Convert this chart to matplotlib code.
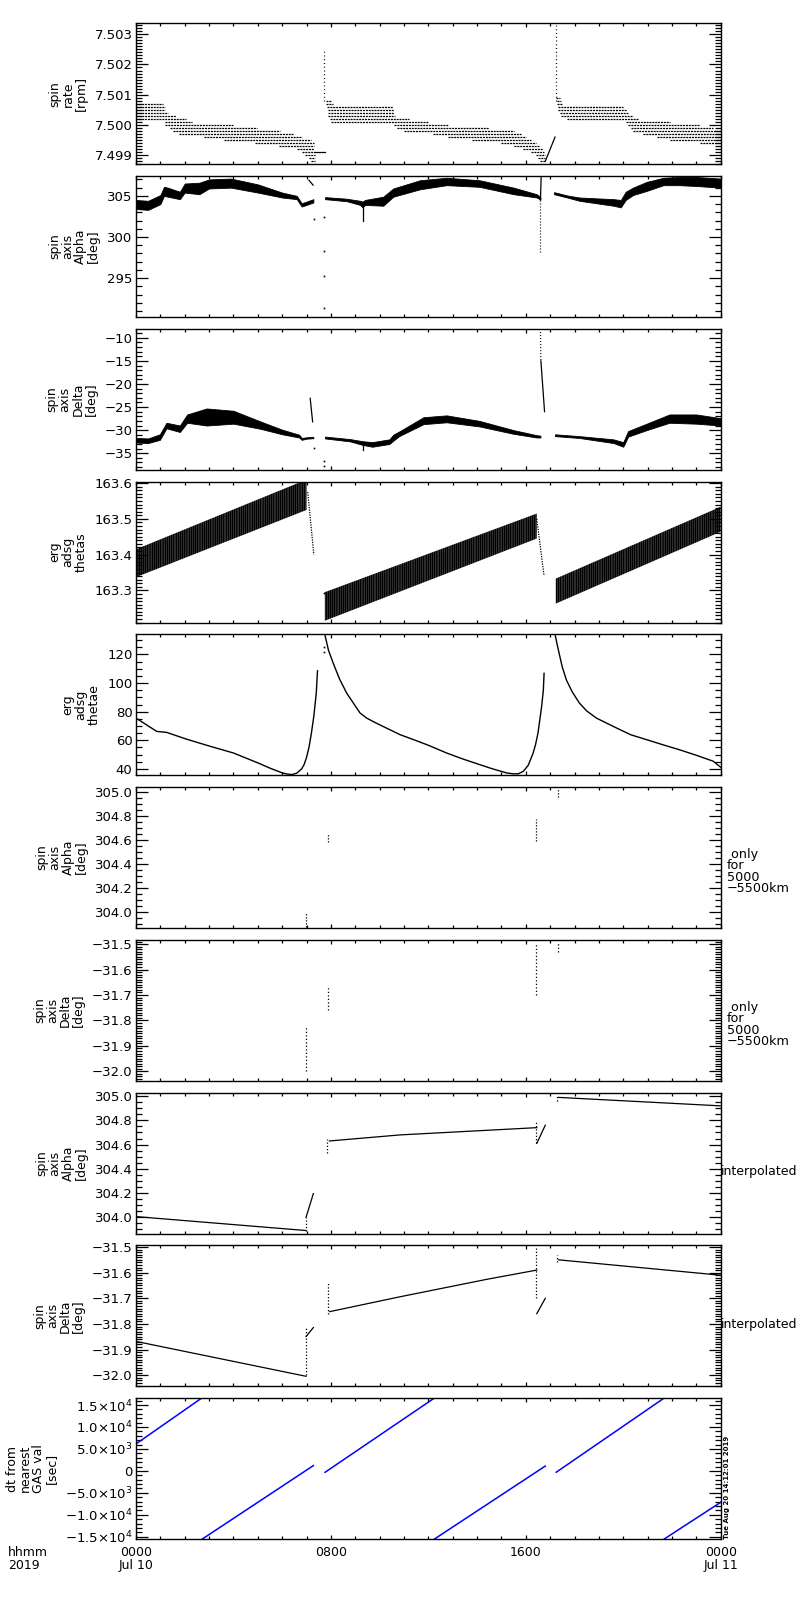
import numpy as np
import matplotlib
matplotlib.use("Agg")
import matplotlib.pyplot as plt
from matplotlib.ticker import MultipleLocator

plt.rcParams['font.family'] = ['DejaVu Sans']
plt.rcParams['hatch.linewidth'] = 1.2

# time axis: hours of 2019-07-10
xtick_hours = [0, 8, 16, 24]
xtick_labels = ['0000\nJul 10', '0800', '1600', '0000\nJul 11']

# ---- panel 1: spin rate, quantised rows (level, start hour, end hour)
rate_lv1 = [7.5007, 7.5006, 7.5005, 7.5004, 7.5003, 7.5002, 7.5001, 7.5000, 7.4999, 7.4998,
            7.4997, 7.4996, 7.4995, 7.4994, 7.4993, 7.4992, 7.4991, 7.4990, 7.4989, 7.4988]
rate_st1 = [0.0, 0.0, 0.0, 0.0, 0.0, 0.0, 1.2, 1.2, 1.4, 1.5, 1.75, 2.8, 3.6, 4.9, 5.85, 6.6, 6.8, 6.95, 7.1, 7.2]
rate_en1 = [1.1, 1.2, 1.2, 1.3, 1.65, 2.05, 2.3, 4.0, 4.95, 5.9, 6.45, 6.8, 7.2, 7.3, 7.3, 7.3, 7.3, 7.35, 7.35, 7.35]
rate_lv2 = [7.5008, 7.5007, 7.5006, 7.5005, 7.5004, 7.5003, 7.5002, 7.5001, 7.5000, 7.4999, 7.4998,
            7.4997, 7.4996, 7.4995, 7.4994, 7.4993, 7.4992, 7.4991, 7.4990, 7.4989, 7.4988]
rate_st2 = [7.78, 7.8, 7.85, 7.9, 7.9, 7.9, 7.95, 8.0, 10.6, 10.7, 11.0, 12.2, 12.8, 13.8, 15.0, 15.5, 15.9, 16.2, 16.4, 16.5, 16.6]
rate_en2 = [8.0, 8.1, 10.55, 10.6, 10.6, 10.65, 11.2, 12.0, 12.8, 14.5, 15.5, 15.8, 16.0, 16.2, 16.4, 16.6, 16.7, 16.75, 16.8, 16.8, 16.8]
rate_lv3 = [7.5009, 7.5008, 7.5007, 7.5006, 7.5005, 7.5004, 7.5003, 7.5002, 7.5001, 7.5000,
            7.4999, 7.4998, 7.4997, 7.4996, 7.4995, 7.4994]
rate_st3 = [17.25, 17.28, 17.3, 17.34, 17.34, 17.4, 17.45, 17.7, 20.1, 20.2, 20.3, 20.4, 20.83, 21.37, 21.9, 23.15]
rate_en3 = [17.4, 17.45, 17.5, 20.0, 20.14, 20.2, 20.4, 20.6, 21.9, 23.15, 23.7, 24.0, 24.0, 24.0, 24.0, 24.0]
rate_flat_t = [7.3, 7.75]
rate_flat_v = [7.4991, 7.4991]
rate_spk_t = [7.72, 17.23]
rate_spk_lo = [7.5008, 7.5008]
rate_spk_hi = [7.5025, 7.5040]
rate_diag_t = [16.8, 17.2]
rate_diag_v = [7.4988, 7.4996]

# ---- panel 2: spin axis alpha, band envelopes per segment
alp_t1 = [0.0, 0.5, 1.0, 1.15, 1.3, 1.8, 2.0, 2.6, 3.0, 3.9, 5.0, 6.0, 6.6, 6.8, 7.0, 7.28]
alp_hi1 = [304.5, 304.4, 305.1, 306.1, 306.0, 305.5, 306.5, 306.6, 307.0, 307.1, 306.4, 305.4, 305.0, 304.1, 304.3, 304.6]
alp_lo1 = [303.4, 303.3, 304.0, 305.0, 304.9, 304.6, 305.4, 305.2, 305.9, 306.0, 305.4, 304.8, 304.6, 303.7, 303.9, 304.2]
alp_t2 = [7.76, 8.65, 9.2, 9.3, 9.4, 10.15, 10.56, 11.66, 12.75, 14.1, 15.5, 16.45, 16.6]
alp_hi2 = [304.85, 304.65, 304.4, 304.3, 304.5, 304.9, 305.9, 306.9, 307.2, 306.9, 306.0, 305.2, 304.85]
alp_lo2 = [304.6, 304.35, 303.9, 303.6, 303.9, 303.8, 304.9, 305.8, 306.3, 306.1, 305.2, 304.8, 304.55]
alp_t3 = [17.16, 17.7, 18.2, 19.6, 19.9, 20.1, 20.4, 20.96, 21.65, 22.3, 23.0, 24.0]
alp_hi3 = [305.45, 305.05, 304.8, 304.6, 304.5, 305.5, 306.0, 306.7, 307.2, 307.3, 307.3, 307.1]
alp_lo3 = [305.2, 304.8, 304.4, 303.8, 303.6, 304.5, 305.1, 305.6, 306.3, 306.3, 306.2, 306.0]
alp_dots_t = [7.32, 7.72, 7.72, 7.72, 7.72]
alp_dots_v = [302.2, 302.4, 298.3, 295.3, 291.3]

# ---- panel 3: spin axis delta
dlt_t1 = [0.0, 0.5, 0.98, 1.25, 1.8, 2.1, 2.9, 4.0, 5.1, 6.0, 6.7, 6.8, 7.0, 7.28]
dlt_hi1 = [-31.7, -31.8, -30.9, -28.4, -29.0, -26.6, -25.3, -25.8, -28.1, -29.9, -31.0, -31.7, -31.55, -31.45]
dlt_lo1 = [-32.7, -32.8, -32.1, -29.6, -30.4, -28.4, -29.0, -28.6, -29.7, -30.9, -31.6, -32.1, -31.85, -31.75]
dlt_t2 = [7.76, 8.8, 9.3, 9.7, 10.4, 10.56, 10.8, 11.8, 12.75, 14.1, 15.5, 16.45, 16.6]
dlt_hi2 = [-31.4, -31.95, -32.4, -32.6, -32.0, -31.0, -30.3, -27.2, -26.8, -28.0, -30.0, -31.1, -31.2]
dlt_lo2 = [-31.8, -32.45, -33.2, -33.6, -33.0, -32.3, -31.3, -28.7, -28.3, -29.2, -30.8, -31.6, -31.6]
dlt_t3 = [17.2, 18.2, 19.6, 20.0, 20.2, 20.96, 21.9, 23.0, 24.0]
dlt_hi3 = [-30.9, -31.3, -32.0, -32.6, -30.2, -28.6, -26.6, -26.6, -27.4]
dlt_lo3 = [-31.3, -31.7, -32.8, -33.6, -31.4, -30.0, -28.4, -28.6, -29.0]
dlt_dots_t = [7.32, 7.72, 7.72]
dlt_dots_v = [-33.9, -36.6, -37.7]

# ---- panel 4: erg adsg thetas, band corners per segment
ths_t = [[0.0, 7.0], [7.75, 16.45], [17.23, 24.0]]
ths_lo = [[163.337, 163.525], [163.215, 163.445], [163.263, 163.464]]
ths_hi = [[163.415, 163.61], [163.295, 163.515], [163.333, 163.534]]
ths_fall_t = [[7.05, 7.3], [16.45, 16.75]]
ths_fall_v = [[163.575, 163.40], [163.50, 163.34]]

# ---- panel 5: erg adsg thetae
the_t1 = [0.0, 0.85, 1.26, 2.05, 3.0, 4.0, 5.0, 5.5, 6.0, 6.2, 6.4, 6.6, 6.8, 6.9, 7.0, 7.1, 7.2, 7.3, 7.4, 7.45]
the_v1 = [75.5, 66.2, 65.5, 60.9, 56.0, 51.1, 44.2, 40.5, 37.2, 36.4, 36.0, 37.0, 40.0, 43.0, 48.0, 55.0, 65.0, 77.0, 93.0, 108.6]
the_t2 = [7.75, 7.9, 8.1, 8.35, 8.65, 9.0, 9.2, 9.47, 9.8, 10.15, 10.84, 11.4, 12.0, 12.75, 13.4, 14.1, 14.6,
          15.0, 15.2, 15.5, 15.7, 15.9, 16.1, 16.3, 16.4, 16.5, 16.65, 16.72, 16.75]
the_v2 = [134.0, 123.0, 113.7, 103.0, 92.9, 84.0, 79.0, 75.5, 72.5, 69.6, 63.9, 60.4, 56.5, 51.1, 47.0, 43.0, 40.2,
          38.2, 37.2, 36.5, 36.6, 38.3, 42.5, 51.0, 57.0, 65.0, 83.6, 95.0, 106.8]
the_t3 = [17.2, 17.3, 17.4, 17.5, 17.67, 17.9, 18.2, 18.5, 18.9, 19.6, 20.3, 20.96, 21.6, 22.3, 23.0, 23.7, 24.0]
the_v3 = [134.0, 126.0, 118.4, 111.0, 102.0, 94.0, 86.0, 80.5, 75.5, 69.6, 63.9, 60.4, 57.0, 53.4, 49.5, 45.3, 41.1]
the_dots_t = [7.72, 7.72]
the_dots_v = [122.0, 125.0]

# ---- panels 6,7: only for 5000-5500 km (short vertical runs)
oa_t = [6.98, 7.87, 16.4, 17.34]
oa_lo = [303.875, 304.58, 304.59, 304.96]
oa_hi = [304.0, 304.65, 304.77, 305.02]
od_t = [6.98, 7.87, 16.42, 17.34]
od_lo = [-32.0, -31.76, -31.70, -31.53]
od_hi = [-31.82, -31.67, -31.50, -31.49]

# ---- panels 8,9: interpolated
ia_t = [[0.0, 6.98], [6.98, 7.28], [7.94, 10.84, 16.45], [16.45, 16.8], [17.34, 24.0]]
ia_v = [[304.005, 303.89], [304.0, 304.195], [304.63, 304.68, 304.74], [304.61, 304.76], [304.99, 304.92]]
ia_dt = [6.98, 7.86, 16.42, 17.27]
ia_dlo = [303.89, 304.53, 304.61, 304.96]
ia_dhi = [304.0, 304.65, 304.79, 305.01]
id_t = [[0.0, 6.98], [6.98, 7.28], [7.95, 10.84, 14.4, 16.45], [16.45, 16.8], [17.34, 24.0]]
id_v = [[-31.868, -32.004], [-31.849, -31.814], [-31.752, -31.694, -31.626, -31.59], [-31.76, -31.70], [-31.55, -31.61]]
id_dt = [6.98, 7.87, 16.42, 17.27]
id_dlo = [-32.0, -31.76, -31.70, -31.56]
id_dhi = [-31.81, -31.64, -31.50, -31.53]

# ---- panel 10: dt from nearest GAS value [s]
gas_t = [[0.0, 2.70], [2.72, 7.28], [7.76, 12.25], [12.25, 16.8], [17.25, 21.68], [21.68, 24.0]]
gas_v = [[6150, 16600], [-15524, 1207], [-319, 16600], [-15524, 1100], [-300, 16600], [-15524, -7150]]
dt_ticks = [-1.5e4, -1.0e4, -5.0e3, 0, 5.0e3, 1.0e4, 1.5e4]
dt_labels = [r'$-1.5{\times}10^{4}$', r'$-1.0{\times}10^{4}$', r'$-5.0{\times}10^{3}$', '0',
             r'$5.0{\times}10^{3}$', r'$1.0{\times}10^{4}$', r'$1.5{\times}10^{4}$']

fig = plt.figure(figsize=(8, 16), dpi=100)
W, H = 800.0, 1600.0
left_px, width_px, top0, step, hgt = 136.0, 584.7, 23.3, 152.75, 141.0
axes = []
for i in range(10):
    top = top0 + i * step
    axes.append(fig.add_axes([left_px / W, 1 - (top + hgt) / H, width_px / W, hgt / H]))


def style(ax, ylim, yticks, ylabels, yminor, ylabel, bottom=False):
    ax.set_xlim(0, 24)
    ax.set_ylim(*ylim)
    ax.set_xticks(xtick_hours)
    ax.xaxis.set_minor_locator(MultipleLocator(1))
    ax.set_yticks(yticks)
    ax.set_yticklabels(ylabels)
    ax.yaxis.set_minor_locator(MultipleLocator(yminor))
    ax.tick_params(which='both', direction='in', top=True, right=True, labelsize=9.5, pad=2.5, width=0.9)
    ax.tick_params(axis='y', which='major', length=8.6)
    ax.tick_params(axis='y', which='minor', length=4.3)
    ax.tick_params(axis='x', which='major', length=3.0)
    ax.tick_params(axis='x', which='minor', length=2.2)
    if bottom:
        ax.set_xticklabels(xtick_labels)
        ax.tick_params(axis='x', labelsize=9, pad=5)
        for lbl in ax.get_xticklabels():
            lbl.set_linespacing(1.0)
    else:
        ax.tick_params(axis='x', labelbottom=False)
    ax.set_ylabel(ylabel, fontsize=9, linespacing=1.0, labelpad=5)
    for s in ax.spines.values():
        s.set_linewidth(1.0)


dash = (0, (1.6, 0.7))

# panel 1
ax = axes[0]
for lv, st, en in [(rate_lv1, rate_st1, rate_en1), (rate_lv2, rate_st2, rate_en2), (rate_lv3, rate_st3, rate_en3)]:
    ax.hlines(lv, st, en, colors='black', linewidth=0.9, linestyles=[dash])
ax.plot(rate_flat_t, rate_flat_v, color='black', lw=0.9)
ax.vlines(rate_spk_t, rate_spk_lo, rate_spk_hi, colors='black', linewidth=0.9, linestyles=[(0, (0.8, 2.2))])
ax.plot(rate_diag_t, rate_diag_v, color='black', lw=0.9)
style(ax, (7.4987, 7.50336), [7.499, 7.500, 7.501, 7.502, 7.503],
      ['7.499', '7.500', '7.501', '7.502', '7.503'], 0.0001, 'spin\nrate\n[rpm]')

# panel 2
ax = axes[1]
for t, lo, hi in [(alp_t1, alp_lo1, alp_hi1), (alp_t2, alp_lo2, alp_hi2), (alp_t3, alp_lo3, alp_hi3)]:
    ax.fill_between(t, lo, hi, color='black', linewidth=0.6)
ax.plot([7.1, 7.27], [306.9, 306.3], color='black', lw=0.9)
ax.plot([9.33, 9.33], [303.6, 302.0], color='black', lw=0.9)
ax.plot([16.6, 16.63], [304.5, 307.3], color='black', lw=0.9)
ax.plot([16.6, 16.6], [304.5, 298.1], color='black', lw=0.9, ls=(0, (0.8, 1.6)))
ax.plot(alp_dots_t, alp_dots_v, 's', color='black', ms=1.2, mew=0)
style(ax, (290.26, 307.41), [295, 300, 305], ['295', '300', '305'], 1, 'spin\naxis\nAlpha\n[deg]')

# panel 3
ax = axes[2]
for t, lo, hi in [(dlt_t1, dlt_lo1, dlt_hi1), (dlt_t2, dlt_lo2, dlt_hi2), (dlt_t3, dlt_lo3, dlt_hi3)]:
    ax.fill_between(t, lo, hi, color='black', linewidth=0.6)
ax.plot([7.15, 7.25], [-23.1, -28.2], color='black', lw=0.9)
ax.plot([9.33, 9.33], [-33.2, -34.4], color='black', lw=0.9)
ax.plot([16.6, 16.62], [-8.1, -15.0], color='black', lw=0.9, ls=(0, (0.8, 1.6)))
ax.plot([16.62, 16.77], [-15.0, -26.0], color='black', lw=0.9)
ax.plot(dlt_dots_t, dlt_dots_v, 's', color='black', ms=1.2, mew=0)
style(ax, (-38.6, -8.03), [-35, -30, -25, -20, -15, -10],
      ['−35', '−30', '−25', '−20', '−15', '−10'], 1, 'spin\naxis\nDelta\n[deg]')

# panel 4
ax = axes[3]
for t, lo, hi in zip(ths_t, ths_lo, ths_hi):
    ax.fill_between(t, lo, hi, facecolor='white', edgecolor='black', hatch='|||||||||', linewidth=0)
for t, v in zip(ths_fall_t, ths_fall_v):
    ax.plot(t, v, color='black', lw=0.9, ls=(0, (1.0, 1.0)))
ax.plot([7.72], [163.294], 's', color='black', ms=1.2, mew=0)
style(ax, (163.21, 163.6045), [163.3, 163.4, 163.5, 163.6],
      ['163.3', '163.4', '163.5', '163.6'], 0.01, 'erg\nadsg\nthetas')

# panel 5
ax = axes[4]
for t, v in [(the_t1, the_v1), (the_t2, the_v2), (the_t3, the_v3)]:
    ax.plot(t, v, color='black', lw=1.0)
ax.plot(the_dots_t, the_dots_v, 's', color='black', ms=1.2, mew=0)
style(ax, (35.5, 134.1), [40, 60, 80, 100, 120], ['40', '60', '80', '100', '120'], 5, 'erg\nadsg\nthetae')

# panel 6
ax = axes[5]
ax.vlines(oa_t, oa_lo, oa_hi, colors='black', linewidth=0.9, linestyles=[(0, (1.0, 1.4))])
style(ax, (303.864, 305.039), [304.0, 304.2, 304.4, 304.6, 304.8, 305.0],
      ['304.0', '304.2', '304.4', '304.6', '304.8', '305.0'], 0.05, 'spin\naxis\nAlpha\n[deg]')
ax.text(1.0108, 0.40, ' only\nfor\n5000\n−5500km', transform=ax.transAxes, fontsize=9.2,
        ha='left', va='center', linespacing=0.85)

# panel 7
ax = axes[6]
ax.vlines(od_t, od_lo, od_hi, colors='black', linewidth=0.9, linestyles=[(0, (1.0, 1.8))])
style(ax, (-32.037, -31.483), [-32.0, -31.9, -31.8, -31.7, -31.6, -31.5],
      ['−32.0', '−31.9', '−31.8', '−31.7', '−31.6', '−31.5'], 0.01, 'spin\naxis\nDelta\n[deg]')
ax.text(1.0108, 0.40, ' only\nfor\n5000\n−5500km', transform=ax.transAxes, fontsize=9.2,
        ha='left', va='center', linespacing=0.85)

# panel 8
ax = axes[7]
for t, v in zip(ia_t, ia_v):
    ax.plot(t, v, color='black', lw=0.9)
ax.vlines(ia_dt, ia_dlo, ia_dhi, colors='black', linewidth=0.9, linestyles=[(0, (1.0, 1.6))])
style(ax, (303.865, 305.03), [304.0, 304.2, 304.4, 304.6, 304.8, 305.0],
      ['304.0', '304.2', '304.4', '304.6', '304.8', '305.0'], 0.05, 'spin\naxis\nAlpha\n[deg]')
ax.text(1.0, 0.44, 'interpolated', transform=ax.transAxes, fontsize=9, ha='left', va='center')

# panel 9
ax = axes[8]
for t, v in zip(id_t, id_v):
    ax.plot(t, v, color='black', lw=0.9)
ax.vlines(id_dt, id_dlo, id_dhi, colors='black', linewidth=0.9, linestyles=[(0, (1.0, 1.6))])
style(ax, (-32.043, -31.4934), [-32.0, -31.9, -31.8, -31.7, -31.6, -31.5],
      ['−32.0', '−31.9', '−31.8', '−31.7', '−31.6', '−31.5'], 0.01, 'spin\naxis\nDelta\n[deg]')
ax.text(1.0, 0.44, 'interpolated', transform=ax.transAxes, fontsize=9, ha='left', va='center')

# panel 10
ax = axes[9]
for t, v in zip(gas_t, gas_v):
    ax.plot(t, v, color='blue', lw=1.1)
style(ax, (-15524, 16594), dt_ticks, dt_labels, 1000, 'dt from\nnearest\nGAS val\n[sec]', bottom=True)
ax.text(1.005, 0.0, 'Tue Aug 20 14:12:01 2019', transform=ax.transAxes, fontsize=5,
        rotation=90, ha='left', va='bottom', fontweight='bold')

fig.text(8 / W, 1 - 1546 / H, 'hhmm\n2019', fontsize=9, ha='left', va='top', linespacing=1.0)

fig.savefig('out.png', dpi=100, facecolor='white')
